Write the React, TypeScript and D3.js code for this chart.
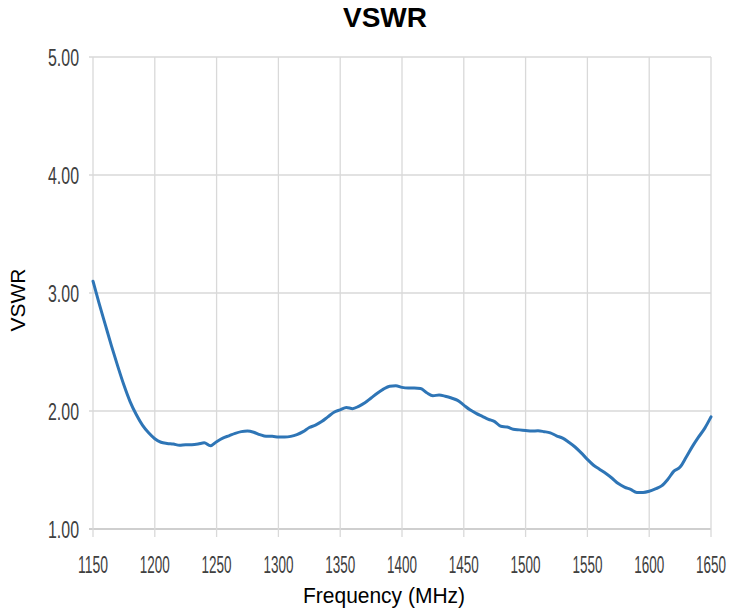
import React from "react";
import * as d3 from "d3";

const freqs: number[] = [
  1150, 1155, 1160, 1165, 1170, 1175, 1180, 1185, 1190, 1195,
  1200, 1205, 1210, 1215, 1220, 1225, 1230, 1235, 1240, 1245,
  1250, 1255, 1260, 1265, 1270, 1275, 1280, 1285, 1290, 1295,
  1300, 1305, 1310, 1315, 1320, 1325, 1330, 1335, 1340, 1345,
  1350, 1355, 1360, 1365, 1370, 1375, 1380, 1385, 1390, 1395,
  1400, 1405, 1410, 1415, 1420, 1425, 1430, 1435, 1440, 1445,
  1450, 1455, 1460, 1465, 1470, 1475, 1480, 1485, 1490, 1495,
  1500, 1505, 1510, 1515, 1520, 1525, 1530, 1535, 1540, 1545,
  1550, 1555, 1560, 1565, 1570, 1575, 1580, 1585, 1590, 1595,
  1600, 1605, 1610, 1615, 1620, 1625, 1630, 1635, 1640, 1645, 1650,
];

const vswr: number[] = [
  3.1, 2.91, 2.73, 2.55, 2.38, 2.22, 2.08, 1.97, 1.88, 1.815,
  1.765, 1.735, 1.725, 1.72, 1.71, 1.715, 1.715, 1.72, 1.73, 1.705,
  1.74, 1.77, 1.79, 1.81, 1.825, 1.83, 1.82, 1.8, 1.785, 1.785,
  1.78, 1.78, 1.785, 1.8, 1.825, 1.86, 1.88, 1.91, 1.95, 1.99,
  2.01, 2.03, 2.02, 2.04, 2.07, 2.11, 2.15, 2.185, 2.21, 2.215,
  2.2, 2.195, 2.195, 2.19, 2.155, 2.13, 2.135, 2.125, 2.11, 2.09,
  2.05, 2.01, 1.98, 1.955, 1.93, 1.91, 1.87, 1.865, 1.845, 1.84,
  1.835, 1.83, 1.832, 1.825, 1.815, 1.79, 1.77, 1.735, 1.695, 1.645,
  1.59, 1.54, 1.505, 1.47, 1.43, 1.385, 1.355, 1.335, 1.31, 1.31,
  1.32, 1.34, 1.365, 1.42, 1.49, 1.525, 1.61, 1.7, 1.78, 1.855, 1.95,
];

const xTicks: number[] = [1150, 1200, 1250, 1300, 1350, 1400, 1450, 1500, 1550, 1600, 1650];
const yTicks: number[] = [1, 2, 3, 4, 5];

const W = 729;
const H = 611;
const left = 93;
const right = 711;
const top = 57;
const bottom = 529;

export default function App() {
  const x = d3.scaleLinear().domain([1150, 1650]).range([left, right]);
  const y = d3.scaleLinear().domain([1, 5]).range([bottom, top]);
  const pts: [number, number][] = freqs.map((f, i) => [f, vswr[i]]);
  const line = d3
    .line<[number, number]>()
    .x((d) => x(d[0]))
    .y((d) => y(d[1]))
    .curve(d3.curveMonotoneX);

  return (
    <svg
      width={W}
      height={H}
      viewBox={`0 0 ${W} ${H}`}
      style={{ position: "absolute", left: 0, top: 0, background: "#fff" }}
    >
      <rect x={0} y={0} width={W} height={H} fill="#fff" />
      {yTicks.map((t) => (
        <line
          key={"h" + t}
          x1={left - 4}
          x2={right}
          y1={y(t)}
          y2={y(t)}
          stroke={t === 1 ? "#bfbfbf" : "#d9d9d9"}
          strokeWidth={1.3}
        />
      ))}
      {xTicks.map((t) => (
        <line
          key={"v" + t}
          x1={x(t)}
          x2={x(t)}
          y1={top}
          y2={bottom + 8}
          stroke="#d9d9d9"
          strokeWidth={1.3}
        />
      ))}
      {yTicks.map((t) => (
        <text
          key={"yl" + t}
          x={79}
          y={y(t)}
          dy="0.37em"
          textAnchor="end"
          fontFamily="'Liberation Sans', Arial, sans-serif"
          fontSize={23}
          fill="#404040"
          textLength={31}
          lengthAdjust="spacingAndGlyphs"
        >
          {t.toFixed(2)}
        </text>
      ))}
      {xTicks.map((t) => (
        <text
          key={"xl" + t}
          x={x(t) - 15}
          y={573}
          fontFamily="'Liberation Sans', Arial, sans-serif"
          fontSize={23}
          fill="#404040"
          textLength={30}
          lengthAdjust="spacingAndGlyphs"
        >
          {t}
        </text>
      ))}
      <path
        d={line(pts) || ""}
        fill="none"
        stroke="#2e75b6"
        strokeWidth={3}
        strokeLinejoin="round"
        strokeLinecap="round"
      />
      <text
        x={385}
        y={27}
        textAnchor="middle"
        fontFamily="'Liberation Sans', Arial, sans-serif"
        fontWeight="bold"
        fontSize={28}
        fill="#000"
      >
        VSWR
      </text>
      <text
        x={384}
        y={603}
        textAnchor="middle"
        fontFamily="'Liberation Sans', Arial, sans-serif"
        fontSize={22}
        fill="#000"
        textLength={162}
        lengthAdjust="spacingAndGlyphs"
      >
        Frequency (MHz)
      </text>
      <text
        transform="translate(25,300) rotate(-90)"
        textAnchor="middle"
        fontFamily="'Liberation Sans', Arial, sans-serif"
        fontSize={21}
        fill="#000"
      >
        VSWR
      </text>
    </svg>
  );
}
